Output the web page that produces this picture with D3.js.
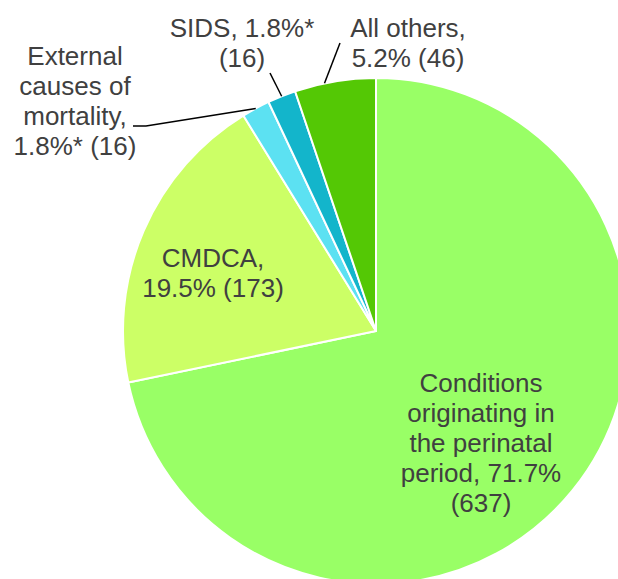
<!DOCTYPE html>
<html>
<head>
<meta charset="utf-8">
<script src="https://cdn.jsdelivr.net/npm/d3@7"></script>
<style>
  html, body { margin: 0; padding: 0; background: #fff; overflow: hidden; }
  svg { display: block; }
</style>
</head>
<body>
<svg id="chart" width="618" height="579"></svg>
<script>
// Infant deaths by cause (count), in clockwise order from 12 o'clock
const causes = ["Conditions originating in the perinatal period", "CMDCA", "External causes of mortality", "SIDS", "All others"];
const counts = [637, 173, 16, 16, 46];
const percents = ["71.7%", "19.5%", "1.8%*", "1.8%*", "5.2%"];
const colors = ["#99ff66", "#ccff66", "#5ce1f2", "#13b5cb", "#54c805"];

// Label lines for each slice (text only)
const labelLines = [
  ["Conditions", "originating in", "the perinatal", "period, " + percents[0], "(" + counts[0] + ")"],
  ["CMDCA,", percents[1] + " (" + counts[1] + ")"],
  ["External", "causes of", "mortality,", percents[2] + " (" + counts[2] + ")"],
  ["SIDS, " + percents[3], "(" + counts[3] + ")"],
  ["All others,", percents[4] + " (" + counts[4] + ")"]
];

// Layout: label block anchor (center x, first baseline y) and leader-line settings
const cx = 376, cy = 331, radius = 253;
const lineHeight = 30;
const labelLayout = [
  { x: 481, y: 392, leader: null },
  { x: 213, y: 267, leader: null },
  { x: 75, y: 65, leader: { from: [133, 126], elbow: [146, 126], frac: 0.5 } },
  { x: 242, y: 37, leader: { from: [270, 73], elbow: null, frac: 0.5 } },
  { x: 408, y: 37, leader: { from: [340, 43], elbow: null, frac: 0.37 } }
];

const svg = d3.select("#chart");
const g = svg.append("g").attr("transform", `translate(${cx},${cy})`);

const pie = d3.pie().sort(null).value(d => d);
const arcs = pie(counts);
const arc = d3.arc().innerRadius(0).outerRadius(radius);

g.selectAll("path.slice")
  .data(arcs)
  .join("path")
  .attr("class", "slice")
  .attr("d", arc)
  .attr("fill", (d, i) => colors[i])
  .attr("stroke", "#ffffff")
  .attr("stroke-width", 2)
  .attr("stroke-linejoin", "round");

// Leader lines from labels to the slice edge
arcs.forEach((d, i) => {
  const L = labelLayout[i].leader;
  if (!L) return;
  const a = d.startAngle + L.frac * (d.endAngle - d.startAngle);
  const end = [cx + radius * Math.sin(a), cy - radius * Math.cos(a)];
  const pts = [L.from];
  if (L.elbow) pts.push(L.elbow);
  pts.push(end);
  svg.append("path")
    .attr("d", d3.line()(pts))
    .attr("fill", "none")
    .attr("stroke", "#000000")
    .attr("stroke-width", 1.5);
});

// Slice labels
labelLines.forEach((lines, i) => {
  const pos = labelLayout[i];
  const t = svg.append("text")
    .attr("text-anchor", "middle")
    .attr("font-family", "'Liberation Sans', Arial, sans-serif")
    .attr("font-size", 26)
    .attr("fill", "#404040");
  lines.forEach((s, k) => {
    t.append("tspan").attr("x", pos.x).attr("y", pos.y + k * lineHeight).text(s);
  });
});
</script>
</body>
</html>
